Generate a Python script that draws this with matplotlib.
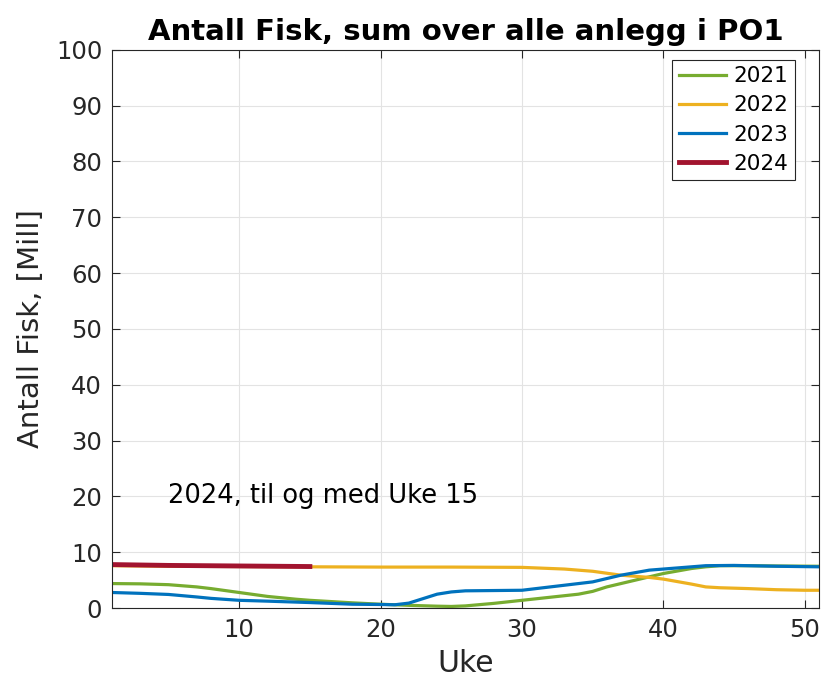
import numpy as np
import matplotlib.pyplot as plt

# Uke (week) values, Antall fisk in millions
uke_2021 = [1, 3, 5, 7, 8, 10, 12, 14, 15, 17, 18, 20, 22, 24, 25, 26, 28, 30, 32, 34, 35, 36, 38, 40, 42, 43, 44, 46, 48, 51]
fisk_2021 = [4.4, 4.35, 4.2, 3.8, 3.5, 2.8, 2.1, 1.6, 1.4, 1.1, 0.95, 0.7, 0.5, 0.35, 0.3, 0.4, 0.85, 1.4, 1.95, 2.5, 3.0, 3.8, 5.0, 6.2, 7.1, 7.4, 7.6, 7.6, 7.55, 7.5]

uke_2022 = [1, 5, 10, 15, 20, 25, 30, 32, 33, 35, 37, 39, 40, 42, 43, 44, 46, 48, 50, 51]
fisk_2022 = [7.6, 7.5, 7.45, 7.4, 7.35, 7.35, 7.3, 7.1, 7.0, 6.6, 5.9, 5.5, 5.2, 4.3, 3.8, 3.65, 3.5, 3.3, 3.2, 3.2]

uke_2023 = [1, 3, 5, 7, 8, 10, 12, 15, 18, 20, 21, 22, 23, 24, 25, 26, 28, 30, 32, 35, 37, 39, 41, 43, 45, 48, 51]
fisk_2023 = [2.8, 2.65, 2.45, 2.0, 1.75, 1.4, 1.25, 1.0, 0.7, 0.65, 0.6, 0.9, 1.7, 2.5, 2.9, 3.1, 3.15, 3.2, 3.8, 4.7, 5.9, 6.8, 7.2, 7.6, 7.65, 7.5, 7.4]

uke_2024 = [1, 5, 10, 15]
fisk_2024 = [7.8, 7.65, 7.55, 7.45]

plt.rcParams['font.family'] = ['DejaVu Sans']

fig = plt.figure(figsize=(8.23, 6.81), dpi=100)
ax = fig.add_axes([0.136, 0.107, 0.859, 0.820])

ax.plot(uke_2021, fisk_2021, color='#77AC30', lw=2.3, label='2021')
ax.plot(uke_2022, fisk_2022, color='#EDB120', lw=2.3, label='2022')
ax.plot(uke_2023, fisk_2023, color='#0072BD', lw=2.3, label='2023')
ax.plot(uke_2024, fisk_2024, color='#A2142F', lw=3.5, label='2024')

ax.text(5, 20, '2024, til og med Uke 15', fontsize=18.5, va='center')

ax.set_xlim(1, 51)
ax.set_ylim(0, 100)
ax.set_xticks([10, 20, 30, 40, 50])
ax.set_yticks(np.arange(0, 101, 10))
ax.grid(True, color='#e3e3e3', lw=0.8)
ax.set_axisbelow(True)
ax.tick_params(direction='in', top=True, right=True, labelsize=17.5, colors='#262626',
               length=5.5, pad=7)
for s in ax.spines.values():
    s.set_color('#262626')

ax.set_xlabel('Uke', fontsize=21.5, color='#262626', labelpad=5)
ax.set_ylabel('Antall Fisk, [Mill]', fontsize=21, color='#262626', labelpad=8)
ax.set_title('Antall Fisk, sum over alle anlegg i PO1', fontsize=21, fontweight='bold', pad=7)

leg = ax.legend(loc='upper right', bbox_to_anchor=(795 / 823, 1 - 60 / 681),
                bbox_transform=fig.transFigure, borderaxespad=0,
                fontsize=15.5, fancybox=False, framealpha=1, edgecolor='#262626',
                handlelength=2.2, labelspacing=0.42, borderpad=0.3, handletextpad=0.35)
leg.get_frame().set_linewidth(0.8)

fig.savefig('out.png', dpi=100)
